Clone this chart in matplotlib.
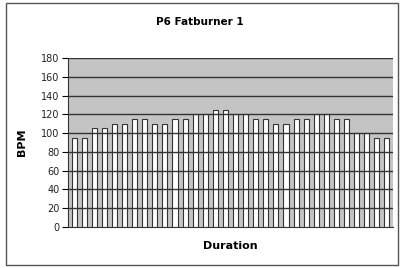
import numpy as np
import matplotlib.pyplot as plt
from matplotlib.patches import Rectangle

# heart rate per interval
bpm = [95, 95, 105, 105, 110, 110, 115, 115, 110, 110, 115, 115,
       120, 120, 125, 125, 120, 120, 115, 115, 110, 110, 115, 115,
       120, 120, 115, 115, 100, 100, 95, 95]
yticks = list(range(0, 181, 20))

W, H = 401, 268
fig = plt.figure(figsize=(W / 100, H / 100), dpi=100)
fig.patch.set_facecolor('white')

# outer chart border
fig.patches.append(Rectangle((6 / W, 3 / H), 392 / W, 262 / H, transform=fig.transFigure,
                             fill=False, edgecolor='#555555', linewidth=1.0))

ax = fig.add_axes([68 / W, (H - 227) / H, (393 - 68) / W, (227 - 58) / H])
ax.set_facecolor('#c4c4c4')

x = np.arange(len(bpm))
ax.bar(x, bpm, width=0.5, color='white', edgecolor='#333333', linewidth=0.8, zorder=2)

ax.set_ylim(0, 180)
ax.set_xlim(-0.6, len(bpm) - 0.4)
ax.set_yticks(yticks)
ax.set_yticklabels([str(t) for t in yticks], fontsize=7, color='#222222')
ax.set_xticks([])
# gridlines are drawn over the bars in the original
for t in yticks[1:]:
    ax.axhline(t, color='#333333', linewidth=1.0, zorder=3)
ax.tick_params(axis='y', length=4, width=0.8, pad=2)

for s in ['top', 'right']:
    ax.spines[s].set_visible(False)
ax.spines['left'].set_color('#333333')
ax.spines['bottom'].set_color('#333333')

ax.set_ylabel('BPM', fontsize=8, fontweight='bold', labelpad=10)
ax.set_xlabel('Duration', fontsize=8, fontweight='bold', labelpad=10)
fig.text(200 / W, 1 - 22 / H, 'P6 Fatburner 1', ha='center', va='center',
         fontsize=7.5, fontweight='bold')

fig.savefig('out.png', dpi=100)
